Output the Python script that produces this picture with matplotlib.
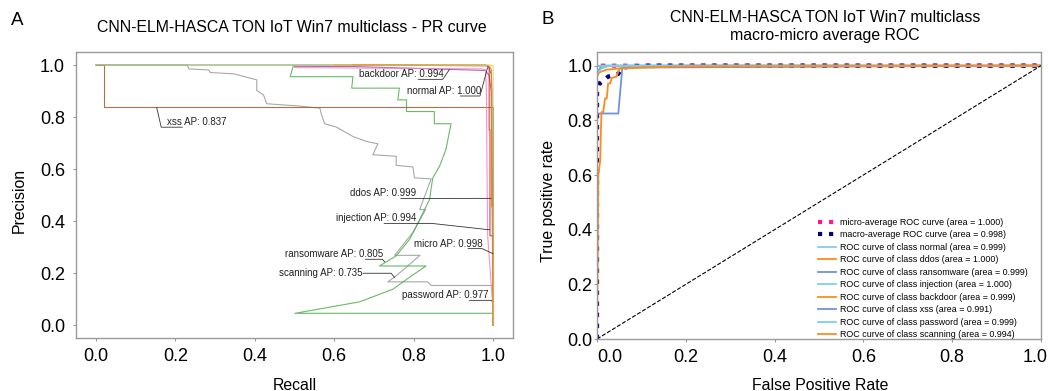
import matplotlib
matplotlib.use("Agg")
import matplotlib.pyplot as plt
from matplotlib.transforms import ScaledTranslation

plt.rcParams['font.family'] = ['Liberation Sans', 'DejaVu Sans']

# ---------------- PR curve data (panel A) ----------------
scanning_recall = [0.0, 0.23, 0.234, 0.284, 0.288, 0.347, 0.405, 0.405, 0.422, 0.43, 0.505, 0.564,
                   0.568, 0.576, 0.606, 0.647, 0.681, 0.71, 0.697, 0.756, 0.756, 0.798, 0.802, 0.844,
                   0.815, 0.83, 0.80, 0.752, 0.816, 0.756, 0.735, 0.835, 0.844, 1.0, 1.0]
scanning_prec = [1.0, 1.0, 0.985, 0.981, 0.971, 0.966, 0.943, 0.902, 0.885, 0.851, 0.843, 0.834,
                 0.808, 0.774, 0.761, 0.725, 0.706, 0.697, 0.655, 0.649, 0.614, 0.608, 0.566, 0.562,
                 0.444, 0.444, 0.36, 0.268, 0.268, 0.189, 0.166, 0.166, 0.152, 0.152, 0.0]

ransomware_recall = [0.497, 0.489, 0.647, 0.644, 0.764, 0.76, 0.782, 0.782, 0.852, 0.852, 0.894,
                     0.881, 0.865, 0.848, 0.84, 0.815, 0.79, 0.756, 0.714, 0.831, 0.789, 0.748,
                     0.664, 0.501, 1.0, 1.0]
ransomware_prec = [0.997, 0.955, 0.955, 0.911, 0.911, 0.866, 0.866, 0.821, 0.821, 0.774, 0.774,
                   0.674, 0.61, 0.566, 0.483, 0.406, 0.33, 0.266, 0.227, 0.227, 0.183, 0.138,
                   0.089, 0.045, 0.045, 0.0]

xss_recall = [0.0, 0.021, 0.021, 1.0, 1.0]
xss_prec = [1.0, 1.0, 0.837, 0.837, 0.0]

injection_recall = [0.647, 0.985, 0.99, 0.99, 0.992, 0.992, 1.0, 1.0]
injection_prec = [1.0, 0.997, 0.99, 0.75, 0.75, 0.343, 0.343, 0.0]

normal_recall = [0.0, 0.982, 0.99, 0.995, 0.997, 1.0]
normal_prec = [1.0, 1.0, 0.99, 0.965, 0.9, 0.0]

ddos_recall = [0.6, 0.99, 0.996, 0.996, 1.0, 1.0]
ddos_prec = [1.0, 0.999, 0.98, 0.455, 0.455, 0.0]

backdoor_recall = [0.5, 0.648, 0.98, 0.99, 0.995, 1.0]
backdoor_prec = [0.995, 0.994, 0.979, 0.96, 0.9, 0.0]

password_recall = [0.5, 0.97, 0.981, 0.983, 0.986, 1.0, 1.0]
password_prec = [0.99, 0.985, 0.981, 0.9, 0.349, 0.049, 0.0]

micro_recall = [0.0, 0.6, 0.999, 1.0, 1.0]
micro_prec = [1.0, 1.0, 0.999, 0.99, 0.0]

pr_names = ['scanning', 'ransomware', 'xss', 'normal', 'backdoor', 'password', 'injection', 'ddos', 'micro']
pr_ap = {'scanning': '0.735', 'ransomware': '0.805', 'xss': '0.837', 'normal': '1.000',
         'backdoor': '0.994', 'password': '0.977', 'injection': '0.994', 'ddos': '0.999', 'micro': '0.998'}
pr_curves = {
    'scanning': (scanning_recall, scanning_prec),
    'ransomware': (ransomware_recall, ransomware_prec),
    'xss': (xss_recall, xss_prec),
    'normal': (normal_recall, normal_prec),
    'backdoor': (backdoor_recall, backdoor_prec),
    'password': (password_recall, password_prec),
    'injection': (injection_recall, injection_prec),
    'ddos': (ddos_recall, ddos_prec),
    'micro': (micro_recall, micro_prec),
}
pr_colors = {'scanning': '#999999', 'ransomware': '#4daf4a', 'xss': '#a65628', 'normal': '#377eb8',
             'backdoor': '#984ea3', 'password': '#f781bf', 'injection': '#e41a1c', 'ddos': '#ff7f00',
             'micro': '#d8d860'}

# annotation layout: text position (left, center), relpos on text, target on curve, connector angle
pr_annot = {
    'backdoor':   ((0.662, 0.964), (0.70, 0.0), (0.890, 0.983), 56),
    'normal':     ((0.783, 0.900), (0.72, 0.0), (0.986, 0.990), 75),
    'xss':        ((0.179, 0.780), (0.26, 0.0), (0.153, 0.837), 103),
    'ddos':       ((0.639, 0.506), (0.77, 0.0), (0.995, 0.487), None),
    'injection':  ((0.604, 0.410), (0.60, 0.0), (0.992, 0.366), -6.3),
    'micro':      ((0.800, 0.313), (0.79, 0.0), (1.000, 0.274), -25),
    'ransomware': ((0.476, 0.272), (0.817, 0.0), (0.727, 0.243), -48),
    'scanning':   ((0.462, 0.199), (1.0, 0.5), (0.752, 0.183), -50),
    'password':   ((0.771, 0.114), (0.777, 0.0), (0.997, 0.092), -34),
}

# ---------------- ROC data (panel B) ----------------
roc_micro_fpr = [0.0, 0.0, 0.002, 0.01, 1.0]
roc_micro_tpr = [0.0, 0.99, 0.997, 1.0, 1.0]
roc_macro_fpr = [0.0, 0.0, 0.003, 0.01, 0.018, 0.025, 0.037, 0.048, 0.057, 0.1, 1.0]
roc_macro_tpr = [0.0, 0.90, 0.93, 0.94, 0.95, 0.96, 0.965, 0.97, 0.993, 1.0, 1.0]

roc_classes = ['normal', 'ddos', 'ransomware', 'injection', 'backdoor', 'xss', 'password', 'scanning']
roc_auc = ['0.999', '1.000', '0.999', '1.000', '0.999', '0.991', '0.999', '0.994']
roc_fpr = {
    'normal': [0.0, 0.0, 0.002, 1.0],
    'ddos': [0.0, 0.0, 1.0],
    'ransomware': [0.0, 0.0, 0.01, 1.0],
    'injection': [0.0, 0.0, 1.0],
    'backdoor': [0.0, 0.0, 0.005, 0.02, 0.05, 0.1, 0.2, 1.0],
    'xss': [0.0, 0.0, 0.048, 0.057, 1.0],
    'password': [0.0, 0.0, 0.01, 0.03, 1.0],
    'scanning': [0.0, 0.003, 0.007, 0.01, 0.014, 0.018, 0.022, 0.025, 0.03, 0.033, 0.044,
                 0.048, 0.052, 0.18, 1.0],
}
roc_tpr = {
    'normal': [0.0, 0.99, 1.0, 1.0],
    'ddos': [0.0, 1.0, 1.0],
    'ransomware': [0.0, 0.97, 1.0, 1.0],
    'injection': [0.0, 1.0, 1.0],
    'backdoor': [0.0, 0.96, 0.975, 0.985, 0.99, 0.995, 1.0, 1.0],
    'xss': [0.0, 0.825, 0.825, 0.993, 1.0],
    'password': [0.0, 0.97, 0.99, 1.0, 1.0],
    'scanning': [0.0, 0.6, 0.65, 0.83, 0.83, 0.88, 0.88, 0.935, 0.935, 0.955, 0.96,
                 0.98, 0.99, 0.997, 1.0],
}
roc_colors = ['#7fd0e0', '#ff8c1a', '#6f93dd']

ticks = [0.0, 0.2, 0.4, 0.6, 0.8, 1.0]

W, H = 1049, 391
fig = plt.figure(figsize=(W / 100, H / 100), dpi=100)
axA = fig.add_axes([76 / W, (H - 338) / H, (513 - 76) / W, (338 - 52) / H])
axB = fig.add_axes([597 / W, (H - 339) / H, (1041 - 597) / W, (339 - 52) / H])

frame_col = '#9a9a9a'
for ax in (axA, axB):
    for s in ax.spines.values():
        s.set_color(frame_col)
        s.set_linewidth(1.0)

# ---------------- Panel A ----------------
for name in pr_names:
    r, p = pr_curves[name]
    axA.plot(r, p, color=pr_colors[name], lw=0.8, alpha=0.85)

for name, (txy, rel, target, ang) in pr_annot.items():
    if ang is None:
        cs = 'arc3,rad=0'
    else:
        cs = 'angle,angleA=0,angleB=%g,rad=0' % ang
    axA.annotate('%s AP: %s' % (name, pr_ap[name]), xy=target, xytext=txy,
                 ha='left', va='center', fontsize=7, color='#222222',
                 arrowprops=dict(arrowstyle='-', color='#333333', lw=0.6, relpos=rel,
                                 connectionstyle=cs, patchA=None, shrinkA=0, shrinkB=0))

axA.set_xlim(-0.05, 1.05)
axA.set_ylim(-0.05, 1.05)
axA.set_xticks(ticks)
axA.set_yticks(ticks)
axA.set_xticklabels(['%.1f' % t for t in ticks])
axA.set_yticklabels(['%.1f' % t for t in ticks])
axA.tick_params(axis='both', labelsize=13, colors=frame_col, labelcolor='black', length=2.5, width=0.8)
axA.tick_params(axis='x', pad=4.5)
axA.tick_params(axis='y', pad=5.5)

# ---------------- Panel B ----------------
axB.plot(roc_micro_fpr, roc_micro_tpr, color='deeppink', linestyle=':', lw=3,
         label='micro-average ROC curve (area = 1.000)')
axB.plot(roc_macro_fpr, roc_macro_tpr, color='navy', linestyle=':', lw=3,
         label='macro-average ROC curve (area = 0.998)')
for i, (cls, auc) in enumerate(zip(roc_classes, roc_auc)):
    axB.plot(roc_fpr[cls], roc_tpr[cls], color=roc_colors[i % 3], lw=1.3,
             label='ROC curve of class %s (area = %s)' % (cls, auc))
axB.plot([0, 1], [0, 1], 'k--', lw=0.8)

axB.set_xlim(0.0, 1.0)
axB.set_ylim(0.0, 1.05)
axB.set_xticks(ticks)
axB.set_yticks(ticks)
axB.set_xticklabels(['%.1f' % t for t in ticks])
axB.set_yticklabels(['%.1f' % t for t in ticks])
axB.tick_params(axis='both', labelsize=13, colors=frame_col, labelcolor='black', length=2, width=0.8)
axB.tick_params(axis='x', pad=5.5)
axB.tick_params(axis='y', pad=1.5)
xlabsB = axB.get_xticklabels()
xlabsB[0].set_ha('left')
xlabsB[-1].set_ha('right')
xlabsB[-1].set_transform(xlabsB[-1].get_transform() + ScaledTranslation(7 / 100, 0, fig.dpi_scale_trans))

leg = axB.legend(loc='upper left', bbox_to_anchor=(0.498, 0.422), frameon=False, fontsize=6.4,
                 borderpad=0, borderaxespad=0, labelspacing=0.39, handlelength=2.0,
                 handletextpad=0.5)

# ---------------- texts ----------------
fs_lab = 11.4
fig.text(292 / W, 1 - 27 / H, 'CNN-ELM-HASCA TON IoT Win7 multiclass - PR curve',
         ha='center', va='center', fontsize=fs_lab)
fig.text(825 / W, 1 - 26.5 / H, 'CNN-ELM-HASCA TON IoT Win7 multiclass\nmacro-micro average ROC',
         ha='center', va='center', fontsize=fs_lab, linespacing=1.3)
fig.text(17.5 / W, 1 - 20.5 / H, 'A', ha='center', va='center', fontsize=13.5)
fig.text(548 / W, 1 - 19.5 / H, 'B', ha='center', va='center', fontsize=13.5)
fig.text(295 / W, 1 - 385 / H, 'Recall', ha='center', va='center', fontsize=fs_lab)
fig.text(820 / W, 1 - 385 / H, 'False Positive Rate', ha='center', va='center', fontsize=fs_lab)
fig.text(19 / W, 1 - 200.5 / H, 'Precision', ha='center', va='center', rotation=90, fontsize=fs_lab)
fig.text(548 / W, 1 - 201 / H, 'True positive rate', ha='center', va='center', rotation=90, fontsize=fs_lab)

fig.savefig('out.png', dpi=100)
